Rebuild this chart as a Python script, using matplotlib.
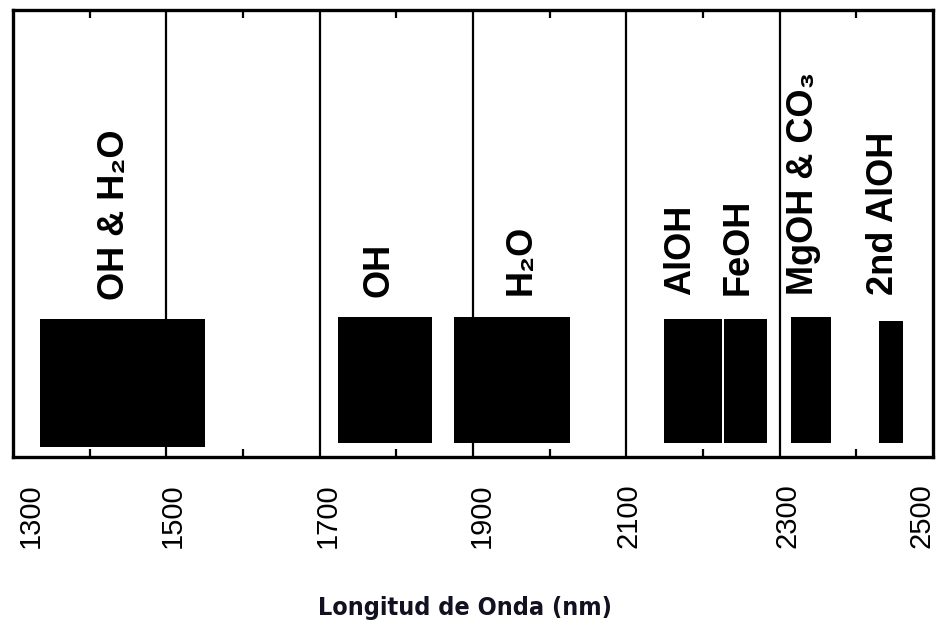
import matplotlib
matplotlib.use("Agg")
import matplotlib.pyplot as plt
from matplotlib.ticker import MultipleLocator
from matplotlib.transforms import ScaledTranslation

plt.rcParams["font.family"] = ["Liberation Sans", "DejaVu Sans"]

# Absorption features: wavelength range (nm) and band height
feature_names = ["OH & H₂O", "OH", "H₂O", "AlOH", "FeOH",
                 "MgOH & CO₃", "2nd AlOH"]
band_start = [1335, 1724, 1875, 2149, 2227, 2315, 2430]
band_end = [1550, 1847, 2027, 2225, 2283, 2367, 2461]
band_bottom = [0.022, 0.031, 0.031, 0.031, 0.031, 0.031, 0.031]
band_top = [0.309, 0.313, 0.313, 0.309, 0.309, 0.313, 0.304]
label_x = [1432, 1777, 1963, 2171, 2246, 2331, 2436]
label_y = [0.352, 0.358, 0.362, 0.362, 0.362, 0.362, 0.362]

region_edges = [1500, 1700, 1900, 2100, 2300]
tick_values = [1300, 1500, 1700, 1900, 2100, 2300, 2500]
# small sideways nudges of the tick labels, in pixels
tick_shift = [18, 6, 8, 9, 2, 8, -11]

fig = plt.figure(figsize=(9.38, 6.29), dpi=100)
ax = fig.add_axes([13 / 938, 172 / 629, 920 / 938, 447 / 629])

for x0, x1, y0, y1 in zip(band_start, band_end, band_bottom, band_top):
    ax.bar(x0, y1 - y0, width=x1 - x0, bottom=y0, align="edge",
           color="black", edgecolor="none")

for edge in region_edges:
    ax.axvline(edge, color="black", lw=1.6, zorder=0)

for name, x, y in zip(feature_names, label_x, label_y):
    ax.text(x, y, name, rotation=90, ha="center", va="bottom",
            fontsize=26, fontweight="bold")

ax.set_xlim(1300, 2500)
ax.set_ylim(0, 1)
ax.set_yticks([])
ax.set_xticks(tick_values)
ax.set_xticklabels([str(v) for v in tick_values], rotation=90, fontsize=21)
ax.xaxis.set_minor_locator(MultipleLocator(100))
ax.tick_params(axis="x", which="major", length=0, pad=19)
ax.tick_params(axis="x", which="minor", direction="in", length=6,
               width=1.6, top=True, bottom=True)
for lbl, dx in zip(ax.get_xticklabels(), tick_shift):
    lbl.set_transform(lbl.get_transform()
                      + ScaledTranslation(dx / 100, 0, fig.dpi_scale_trans))
for spine in ax.spines.values():
    spine.set_linewidth(2.4)

fig.text(465 / 938, 1 - 608 / 629, "Longitud de Onda (nm)",
         ha="center", va="center", fontsize=18, fontweight="bold",
         family="DejaVu Sans", fontstretch="condensed", color="#111122")

fig.savefig("out.png", dpi=100)
